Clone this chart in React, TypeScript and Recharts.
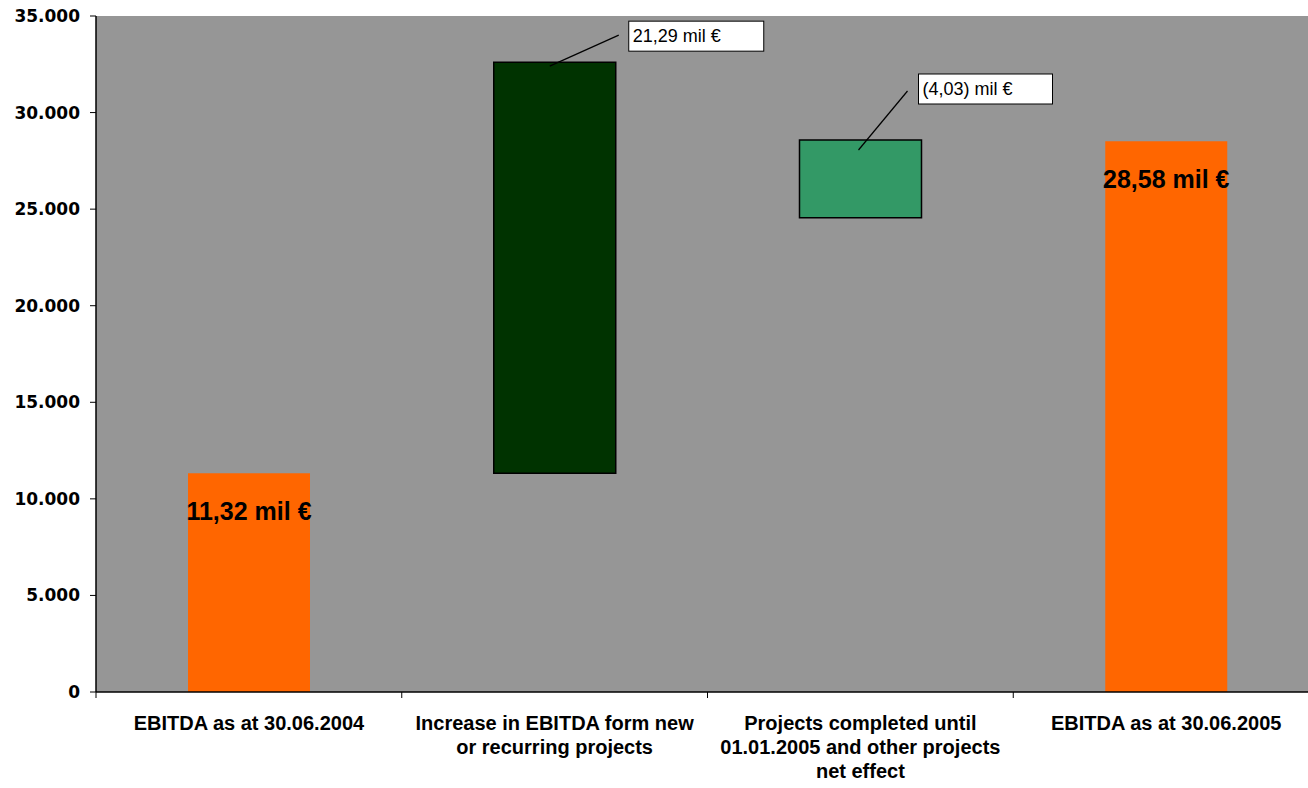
import React from "react";
import { Bar, BarChart, CartesianGrid, Cell, LabelList, XAxis, YAxis } from "recharts";

// waterfall steps, values in thousand €
const categories = [
  "EBITDA as at 30.06.2004",
  "Increase in EBITDA form new or recurring projects",
  "Projects completed until 01.01.2005 and other projects net effect",
  "EBITDA as at 30.06.2005",
];
const categoryLines = [
  ["EBITDA as at 30.06.2004"],
  ["Increase in EBITDA form new", "or recurring projects"],
  ["Projects completed until", "01.01.2005 and other projects", "net effect"],
  ["EBITDA as at 30.06.2005"],
];
const baseValues = [0, 11320, 24550, 0];
const stepValues = [11320, 21290, 4030, 28520];
const stepLabels = ["11,32 mil €", "21,29 mil €", "(4,03) mil €", "28,58 mil €"];
const yTicks = [0, 5000, 10000, 15000, 20000, 25000, 30000, 35000];

const barColors = ["#ff6600", "#003300", "#339966", "#ff6600"];

const data = categories.map((name, i) => ({
  name,
  base: baseValues[i],
  step: stepValues[i],
}));

const HALF_BAND = 1223 / 4 / 2;

function CategoryTick(props: any) {
  const { x, y, index } = props;
  const lines = categoryLines[index] ?? [];
  return (
    <g>
      <line x1={x - HALF_BAND} y1={y} x2={x - HALF_BAND} y2={y + 6} stroke="#000" />
      {index === categories.length - 1 && (
        <line x1={x + HALF_BAND} y1={y} x2={x + HALF_BAND} y2={y + 6} stroke="#000" />
      )}
      <text
        x={x}
        y={y + 38}
        textAnchor="middle"
        fontFamily="'Liberation Sans', Arial, sans-serif"
        fontWeight="bold"
        fontSize={20}
        fill="#000"
      >
        {lines.map((line, i) => (
          <tspan key={i} x={x} dy={i === 0 ? 0 : 24}>
            {line}
          </tspan>
        ))}
      </text>
    </g>
  );
}

function StepLabel(props: any) {
  const { x, y, width, index } = props;
  const text = stepLabels[index];
  if (index === 0 || index === 3) {
    return (
      <text
        x={x + width / 2}
        y={y + 47}
        textAnchor="middle"
        fontFamily="'Liberation Sans', Arial, sans-serif"
        fontWeight="bold"
        fontSize={25}
        fill="#000"
      >
        {text}
      </text>
    );
  }
  // callout boxes with a leader line
  const c =
    index === 1
      ? { lx1: 56, ly1: 4, lx2: 125, ly2: -27, bx: 135, by: -41, bw: 135 }
      : { lx1: 59, ly1: 10, lx2: 108, ly2: -49, bx: 119, by: -66, bw: 134 };
  return (
    <g>
      <line x1={x + c.lx1} y1={y + c.ly1} x2={x + c.lx2} y2={y + c.ly2} stroke="#000" strokeWidth={1.2} />
      <rect x={x + c.bx} y={y + c.by} width={c.bw} height={30} fill="#fff" stroke="#000" />
      <text
        x={x + c.bx + 4}
        y={y + c.by + 21}
        fontFamily="'Liberation Sans', Arial, sans-serif"
        fontSize={18}
        fill="#000"
      >
        {text}
      </text>
    </g>
  );
}

export default function App() {
  return (
    <div
      style={{
        position: "absolute",
        left: 0,
        top: 0,
        width: 1308,
        height: 788,
        overflow: "hidden",
        background: "#fff",
      }}
    >
      <BarChart width={1330} height={788} data={data} margin={{ top: 16, right: 11, bottom: 0, left: 0 }}>
        <CartesianGrid fill="#969696" stroke="none" horizontal={false} vertical={false} />
        <XAxis
          dataKey="name"
          height={96}
          tickLine={false}
          tickSize={0}
          tickMargin={0}
          axisLine={{ stroke: "#000", strokeWidth: 1.5 }}
          tick={<CategoryTick />}
          interval={0}
        />
        <YAxis
          width={96}
          domain={[0, 35000]}
          ticks={yTicks}
          interval={0}
          tickSize={6}
          tickMargin={10}
          tickLine={{ stroke: "#000" }}
          axisLine={{ stroke: "#000", strokeWidth: 1.5 }}
          tickFormatter={(v: number) => v.toLocaleString("de-DE")}
          tick={{ fill: "#000", fontSize: 17, fontWeight: "bold", fontFamily: "'DejaVu Sans', Verdana, sans-serif" }}
        />
        <Bar dataKey="base" stackId="w" fill="transparent" barSize={122} isAnimationActive={false} />
        <Bar dataKey="step" stackId="w" barSize={122} isAnimationActive={false}>
          {data.map((_, i) => (
            <Cell
              key={i}
              fill={barColors[i]}
              stroke={i === 1 || i === 2 ? "#000" : "none"}
              strokeWidth={1.5}
            />
          ))}
          <LabelList dataKey="step" content={<StepLabel />} />
        </Bar>
      </BarChart>
    </div>
  );
}
